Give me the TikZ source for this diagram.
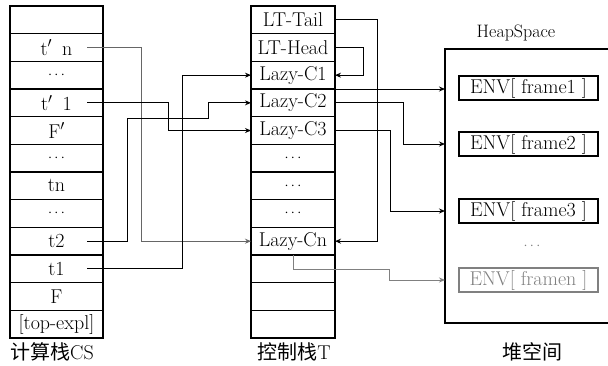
\documentclass[tikz,border=0pt]{standalone}
\usepackage{fontspec}
\newfontfamily\cjk{Noto Sans CJK SC}
\usetikzlibrary{arrows.meta,positioning}

\newcommand{\rowdots}{{\fontsize{14}{16}\selectfont$\cdots$}}

\begin{document}
\begin{tikzpicture}[
  x=1pt, y=-1pt,
  font=\fontsize{20}{24}\selectfont,
  cell/.style={draw, line width=1.3pt, outer sep=0pt, inner sep=1pt, minimum height=27.67pt},
  csrow/.style={cell, minimum width=93pt},
  trow/.style={cell, minimum width=84pt},
  env/.style={draw, line width=1.2pt, minimum width=139pt, minimum height=24pt, inner sep=1pt},
  link/.style={draw, ->, >={Stealth[length=6pt,width=5pt]}, line width=1pt},
  caption/.style={font=\fontsize{20}{24}\selectfont}
]
\useasboundingbox (0,0) rectangle (608,365);

% computing stack
\foreach \txt [count=\i] in {{}, {t$'$\enspace n}, {\rowdots}, {t$'$\enspace 1}, {F$'$}, {\rowdots},
    {tn}, {\rowdots}, {t2}, {t1}, {F}, {[top-expl]}}
  \node[csrow] (cs\i) at (56.5, {6+27.67*(\i-0.5)}) {\txt};

% control stack
\foreach \txt/\nm [count=\i] in {LT-Tail/tail, LT-Head/head, Lazy-C1/c1, Lazy-C2/c2, Lazy-C3/c3,
    \rowdots/d1, \rowdots/d2, \rowdots/d3, Lazy-Cn/cn, /e1, /e2, /e3}
  \node[trow] (\nm) at (293, {6+27.67*(\i-0.5)}) {\txt};

% heap space
\coordinate (hs) at (445,49);
\coordinate (hb) at (445,323);
\draw[line width=1.2pt] (608,49) -- (hs) -- (hb) -- (608,323);
\node[font=\fontsize{18}{20}\selectfont] (heap) at (516,33) {HeapSpace};
\node[env] (f1) at (528.5,88) {ENV[ frame1 ]};
\node[env] (f2) at (528.5,144) {ENV[ frame2 ]};
\node[env] (f3) at (528.5,211) {ENV[ frame3 ]};
\node[text=black!50] (hdots) at (532,246) {\rowdots};
\node[env, draw=black!50, text=black!50] (fn) at (528.5,280) {ENV[ framen ]};

% captions
\node[caption] (cscap) at (52,352) {{\cjk 计算栈}CS};
\node[caption] (tcap) at (294,352) {{\cjk 控制栈}T};
\node[caption] (hcap) at (532,352) {\cjk 堆空间};

% links from CS to T
\draw[link, black!60] ([xshift=-16pt]cs2.east) -- ++(54,0) |- (cn.west);
\draw[link] ([xshift=-16pt]cs4.east) -- ++(81,0) |- (c3.west);
\draw[link] ([xshift=-16pt]cs9.east) -- ++(40,0) -- ++(0,-123) -- ++(81,0) |- (c2.west);
\draw[link] ([xshift=-16pt]cs10.east) -- ++(95,0) |- (c1.west);

% links inside T
\draw[link] (tail.east) -- ++(42,0) |- (cn.east);
\draw[link] (head.east) -- ++(28,0) |- (c1.east);

% links from T to heap
\draw[link] (c1.south east) -- (c1.south east -| hs);
\draw[link] (c2.east) -- ++(68,0) |- (f2.west -| hs);
\draw[link] (c3.east) -- ++(55,0) |- (f3.west -| hs);
\draw[link, black!50] (cn.south) -- ++(0,14) -- ++(96,0) |- (fn.west -| hs);
\end{tikzpicture}
\end{document}
